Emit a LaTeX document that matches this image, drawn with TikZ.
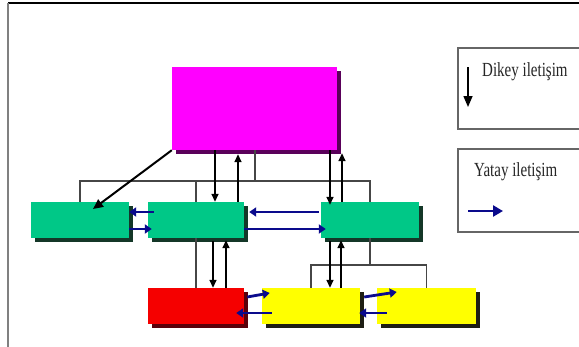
\documentclass[tikz,border=0pt]{standalone}
\usepackage{fontspec}
\setmainfont{Liberation Serif}
\usepackage{graphicx}
\usetikzlibrary{arrows.meta,shadows,calc}
\definecolor{mag}{RGB}{255,0,255}
\definecolor{magsh}{RGB}{90,0,90}
\definecolor{grn}{RGB}{0,200,135}
\definecolor{grnsh}{RGB}{20,55,40}
\definecolor{rd}{RGB}{245,0,0}
\definecolor{rdsh}{RGB}{90,0,10}
\definecolor{ylw}{RGB}{255,255,0}
\definecolor{ylwsh}{RGB}{30,30,20}
\definecolor{navy}{RGB}{10,10,140}
\definecolor{conngray}{RGB}{70,70,70}
\begin{document}
\begin{tikzpicture}[x=1pt,y=-1pt,
  boxsh/.style 2 args={rectangle, inner sep=0pt, draw=none, fill=#1,
    general shadow={shadow xshift=3.5pt, shadow yshift=-3.5pt, fill=#2}},
  conn/.style={draw=conngray, line width=1.1pt},
  varrow/.style={draw=black, line width=1.5pt, -{Triangle[length=8pt,width=7pt]}},
  darrow/.style={draw=black, line width=2pt, -{Triangle[length=10pt,width=9pt]}},
  harrow/.style={draw=navy, line width=2.8pt, -{Triangle[length=7pt,width=9pt]}},
  legbox/.style={rectangle, draw=gray!80!black, line width=2pt, fill=white, inner sep=0pt, anchor=north west},
  legtext/.style={anchor=west, inner sep=0pt, text=black!85, font=\fontsize{20}{24}\selectfont}
]
\useasboundingbox (0,0) rectangle (579,346);
\fill[white] (0,0) rectangle (579,346);
% outer frame
\draw[black, line width=1.5pt] (8,3) -- (580,3);
\draw[gray, line width=1.8pt] (8,3) -- (8,347);

% coordinates
\coordinate (bus1) at (255,181);
\coordinate (bus2) at (370,265);
\coordinate (ca) at (215,0);
\coordinate (cb) at (238,0);
\coordinate (cc) at (330,0);
\coordinate (cd) at (342,0);
\coordinate (ce) at (213,0);
\coordinate (cf) at (226,0);
\coordinate (cg) at (330,0);
\coordinate (ch) at (341,0);
\coordinate (ra) at (0,212);
\coordinate (rb) at (0,229);
\coordinate (rc) at (0,293);
\coordinate (rd) at (0,313);
\coordinate (dtip) at (93,209);

% boxes
\node[boxsh={mag}{magsh}, minimum width=165pt, minimum height=83pt] (top) at (254.5,108.5) {};
\node[boxsh={grn}{grnsh}, minimum width=98pt, minimum height=36pt] (lg) at (80,220) {};
\node[boxsh={grn}{grnsh}, minimum width=96pt, minimum height=36pt] (mg) at (196,220) {};
\node[boxsh={grn}{grnsh}, minimum width=98pt, minimum height=36pt] (rg) at (370,220) {};
\node[boxsh={rd}{rdsh}, minimum width=96pt, minimum height=36pt] (red) at (196,306) {};
\node[boxsh={ylw}{ylwsh}, minimum width=98pt, minimum height=36pt] (y1) at (311,306) {};
\node[boxsh={ylw}{ylwsh}, minimum width=99pt, minimum height=36pt] (y2) at (426.5,306) {};

% org connectors
\draw[conn] (top.south -| bus1) -- (bus1);
\draw[conn] (lg.north) |- (rg.north |- bus1) -- (rg.north);
\draw[conn] (mg.north) -- (mg.north |- bus1);
\draw[conn] (mg.south) -- (red.north);
\draw[conn] (rg.south) -- (bus2);
\draw[conn] (y1.north) |- (bus2) -| (y2.north);

% vertical arrows
\draw[varrow] (top.south -| ca) -- (mg.north -| ca);
\draw[varrow] (mg.north -| cb) -- ($(top.south -| cb)+(0,4)$);
\draw[varrow] (top.south -| cc) -- ($(rg.north -| cc)+(0,3)$);
\draw[varrow] (rg.north -| cd) -- ($(top.south -| cd)+(0,3)$);
\draw[varrow] ($(mg.south -| ce)+(0,3)$) -- (red.north -| ce);
\draw[varrow] (red.north -| cf) -- ($(mg.south -| cf)+(0,2)$);
\draw[varrow] ($(rg.south -| cg)+(0,3)$) -- (y1.north -| cg);
\draw[varrow] (y1.north -| ch) -- ($(rg.south -| ch)+(0,2)$);

% diagonal arrow
\draw[darrow] (top.south west) -- (dtip);

% horizontal arrows
\draw[harrow] ($(mg.west |- ra)+(6,0)$) -- (lg.east |- ra);
\draw[harrow] (lg.east |- rb) -- ($(mg.west |- rb)+(4,0)$);
\draw[harrow] ($(rg.west |- ra)+(-2,0)$) -- ($(mg.east |- ra)+(5,0)$);
\draw[harrow] (mg.east |- rb) -- ($(rg.west |- rb)+(5,0)$);
\draw[harrow] ($(red.east |- rc)+(3,4)$) -- ($(y1.west |- rc)+(8,0)$);
\draw[harrow] ($(y1.west |- rd)+(10,0)$) -- ($(red.east |- rd)+(-8,0)$);
\draw[harrow] ($(y1.east |- rc)+(4,4)$) -- ($(y2.west |- rc)+(20,-1)$);
\draw[harrow] ($(y2.west |- rd)+(10,0)$) -- ($(y1.east |- rd)+(-1,0)$);

% legend
\node[legbox, minimum width=140pt, minimum height=81pt] (leg1) at (457,47) {};
\node[legbox, minimum width=140pt, minimum height=83pt] (leg2) at (457,148) {};
\coordinate (l1a) at ($(leg1.north west)+(11,20)$);
\coordinate (l1b) at ($(leg1.north west)+(11,60)$);
\draw[varrow, -{Triangle[length=11pt,width=9pt]}] (l1a) -- (l1b);
\node[legtext] (t1) at ($(leg1.north west)+(25,25)$) {\scalebox{0.75}[1]{Dikey iletişim}};
\node[legtext] (t2) at ($(leg2.north west)+(17,24)$) {\scalebox{0.75}[1]{Yatay iletişim}};
\coordinate (l2a) at ($(leg2.north west)+(11,63)$);
\coordinate (l2b) at ($(leg2.north west)+(46,63)$);
\draw[harrow, -{Triangle[length=10pt,width=11pt]}] (l2a) -- (l2b);
\end{tikzpicture}
\end{document}
